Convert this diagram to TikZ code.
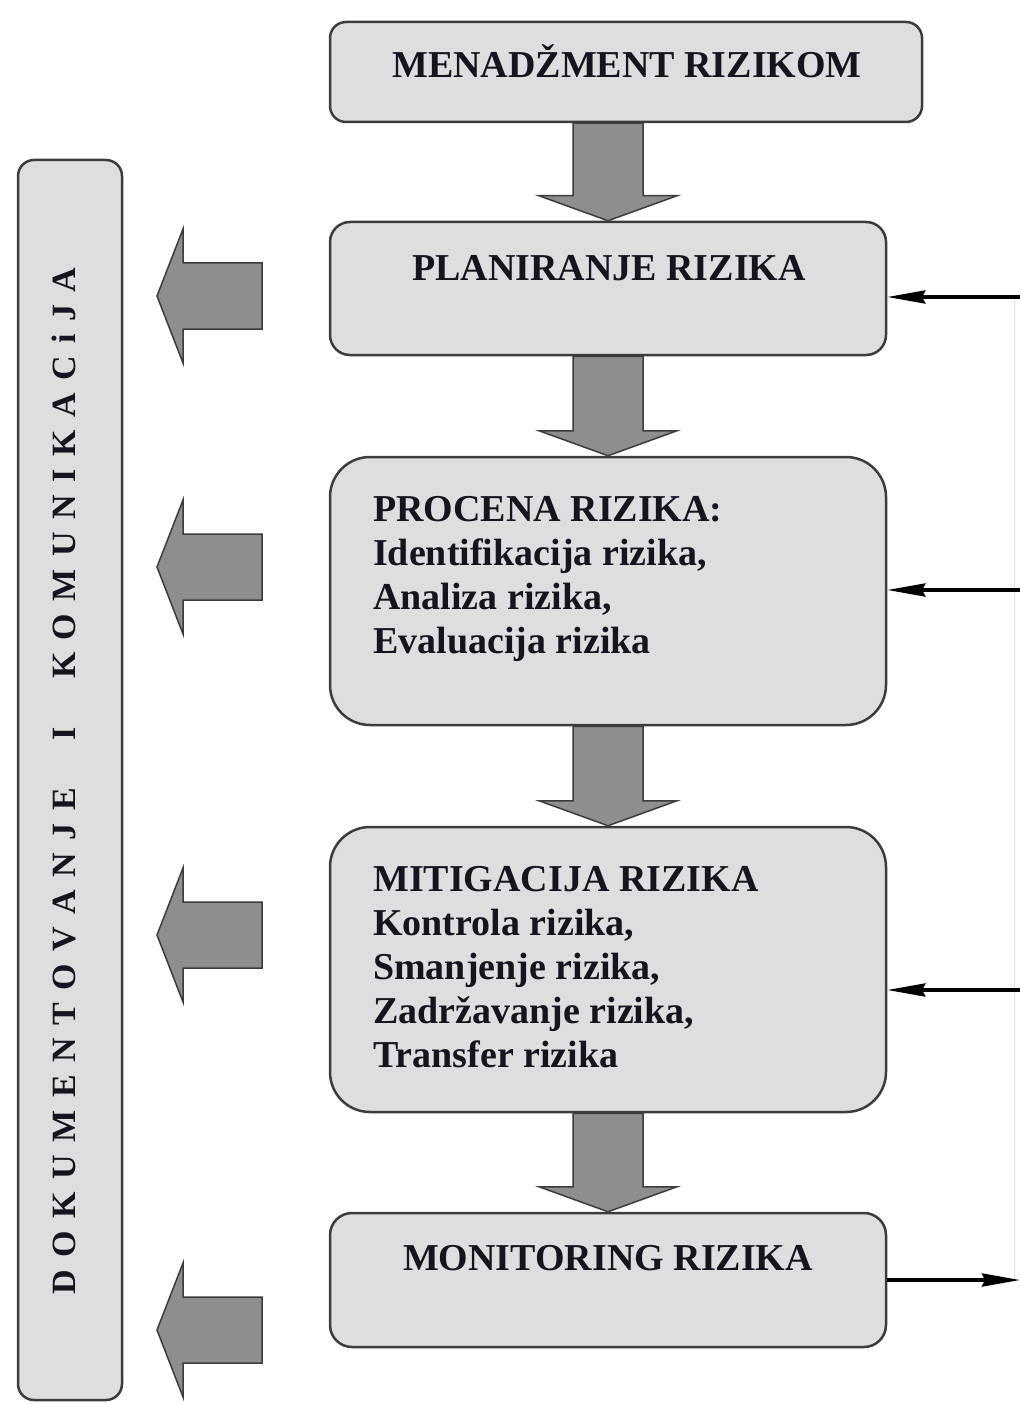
\documentclass[tikz,border=0pt]{standalone}
\usepackage{fontspec}
\setmainfont{Liberation Serif}
\usetikzlibrary{calc,arrows.meta,backgrounds}
\definecolor{boxfill}{HTML}{DEDEDE}
\definecolor{boxline}{HTML}{3C3C3C}
\definecolor{arrfill}{HTML}{8E8E8E}
\definecolor{txtcol}{HTML}{151520}
\makeatletter
\newcommand\spreadword[2]{\@tfor\ch:=#2\do{\ch\kern#1}\unkern}
\makeatother
\tikzset{
  box/.style={draw=boxline, line width=2.5pt, fill=boxfill, inner sep=0pt},
  btxt/.style={font=\bfseries\fontsize{38}{44}\selectfont, text=txtcol, inner sep=0pt},
  bigarr/.style={draw=boxline, fill=arrfill, line width=1.5pt, line join=miter},
  conn/.style={draw=black, line width=3.5pt, -{Stealth[length=38pt,width=13pt,inset=3pt]}},
}
\newcommand\bigdown[2]{%
  \draw[bigarr] ($(#1.south -| #2.north)+(-35,0)$) -- ($(#2.north)+(-35,-25)$)
    -- ($(#2.north)+(-69,-25)$) -- (#2.north) -- ($(#2.north)+(69,-25)$)
    -- ($(#2.north)+(35,-25)$) -- ($(#1.south -| #2.north)+(35,0)$) -- cycle;}
\newcommand\bigleft[1]{%
  \draw[bigarr] (#1) -- ++(26,-67) -- ++(0,34) -- ++(79,0) -- ++(0,66)
    -- ++(-79,0) -- ++(0,34) -- cycle;}
\begin{document}
\begin{tikzpicture}[x=1pt,y=-1pt]
\useasboundingbox (0,0) rectangle (1020,1404);
% boxes
\node[box, rounded corners=16pt, minimum width=592pt, minimum height=100pt] (mgmt) at (626,72) {};
\node[box, rounded corners=20pt, minimum width=556pt, minimum height=133pt] (plan) at (608,288.5) {};
\node[box, rounded corners=40pt, minimum width=556pt, minimum height=268pt] (proc) at (608,591) {};
\node[box, rounded corners=40pt, minimum width=556pt, minimum height=285pt] (mit) at (608,969.5) {};
\node[box, rounded corners=22pt, minimum width=556pt, minimum height=134pt] (mon) at (608,1280) {};
\node[box, rounded corners=16pt, minimum width=104pt, minimum height=1240pt] (doc) at (70,780) {};
% texts
\node[btxt, anchor=base] (tmgmt) at (627,78) {MENADŽMENT RIZIKOM};
\node[btxt, anchor=base] (tplan) at (609,280) {PLANIRANJE RIZIKA};
\node[btxt, anchor=base west] (tp1) at (373,521) {PROCENA RIZIKA:};
\node[btxt, anchor=base west] (tp2) at (373,565) {Identifikacija rizika,};
\node[btxt, anchor=base west] (tp3) at (373,609) {Analiza rizika,};
\node[btxt, anchor=base west] (tp4) at (373,653) {Evaluacija rizika};
\node[btxt, anchor=base west] (tm1) at (373,891) {MITIGACIJA RIZIKA};
\node[btxt, anchor=base west] (tm2) at (373,935) {Kontrola rizika,};
\node[btxt, anchor=base west] (tm3) at (373,979) {Smanjenje rizika,};
\node[btxt, anchor=base west] (tm4) at (373,1023) {Zadržavanje rizika,};
\node[btxt, anchor=base west] (tm5) at (373,1067) {Transfer rizika};
\node[btxt, anchor=base] (tmon) at (608,1270) {MONITORING RIZIKA};
\node[font=\bfseries\fontsize{34}{40}\selectfont, text=txtcol, inner sep=0pt, rotate=90, anchor=base] (tdoc) at (75,781)
  {\spreadword{12.5pt}{DOKUMENTOVANJE}\kern48pt\spreadword{12.5pt}{I}\kern48pt\spreadword{12.5pt}{KOMUNIKACiJA}};
% big arrows
\begin{scope}[on background layer]
\bigdown{mgmt}{plan}
\bigdown{plan}{proc}
\bigdown{proc}{mit}
\bigdown{mit}{mon}
\end{scope}
\coordinate (la) at (157,296);
\coordinate (lb) at (157,567);
\coordinate (lc) at (157,935);
\coordinate (ld) at (157,1330);
\bigleft{la}
\bigleft{lb}
\bigleft{lc}
\bigleft{ld}
% feedback connectors
\coordinate (ra) at (1020,297);
\coordinate (rb) at (1020,590);
\coordinate (rc) at (1020,990);
\coordinate (rd) at (1020,1280);
\coordinate (va) at (1014,297);
\coordinate (vd) at (1014,1280);
\draw[black!12, line width=1pt] (va) -- (vd);
\draw[conn] (ra) -- (ra -| plan.east);
\draw[conn] (rb) -- (rb -| proc.east);
\draw[conn] (rc) -- (rc -| mit.east);
\draw[conn] (mon.east |- rd) -- (rd);
\end{tikzpicture}
\end{document}
